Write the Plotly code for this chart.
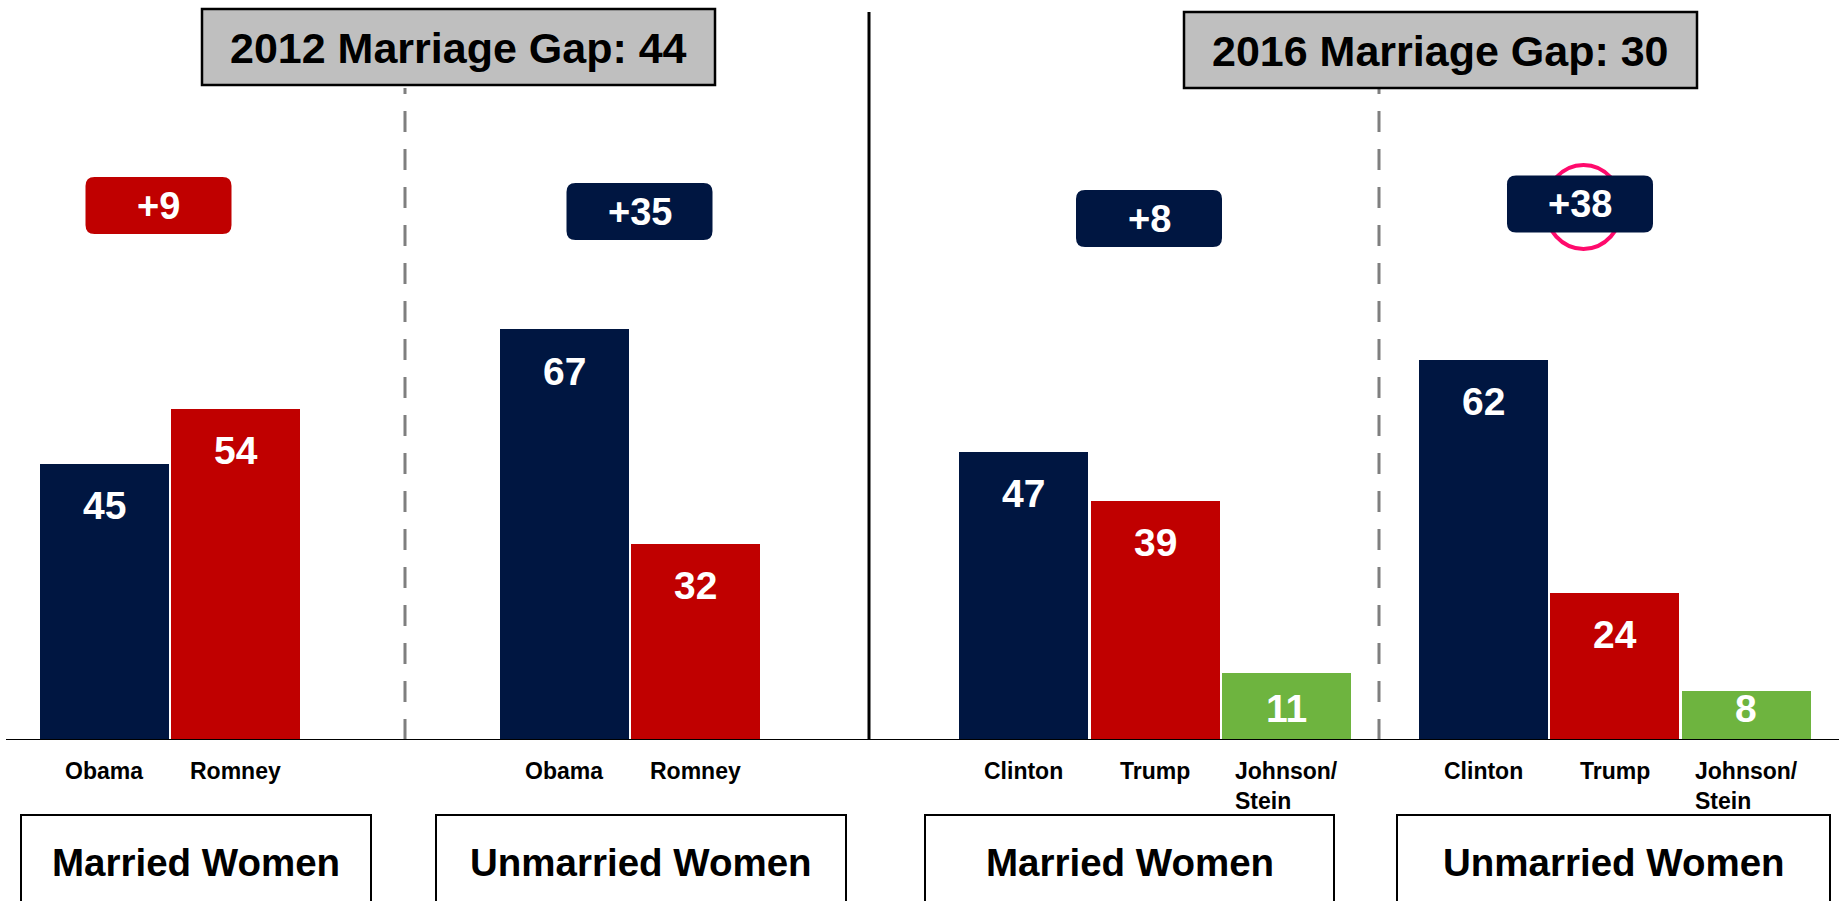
import plotly.graph_objects as go

# ---------------- data ----------------
groups = ["2012 Married", "2012 Unmarried", "2016 Married", "2016 Unmarried"]
group_titles = ["Married Women", "Unmarried Women", "Married Women", "Unmarried Women"]
candidates_2012 = ["Obama", "Romney"]
candidates_2016 = ["Clinton", "Trump", "Johnson/<br>Stein"]
married_2012 = [45, 54]
unmarried_2012 = [67, 32]
married_2016 = [47, 39, 11]
unmarried_2016 = [62, 24, 8]
years = ["2012", "2016"]

# ---------------- style ----------------
NAVY = "#001641"
RED = "#C00000"
GREEN = "#6EB43F"
GRAY_BOX = "#BFBFBF"
DASH_GRAY = "#7F7F7F"
PINK = "#FF0A6C"
FONT = "Liberation Sans, Arial, sans-serif"
cand_colors = [NAVY, RED, GREEN]

W, H = 1839, 901
BASE_PX = 740          # pixel row of the baseline
PX_PER_UNIT = 6.134    # vertical pixels per percentage point
SLOT_PX = 131.35       # horizontal pixels per bar slot
FIRST_PX = 104.4       # pixel column of first bar centre
BAR_W = 0.982
GROUP_STEP = 3.5

def xp(px):
    return px / W

def yp(py):
    return (BASE_PX - py) / BASE_PX

series = [
    (candidates_2012, married_2012),
    (candidates_2012, unmarried_2012),
    (candidates_2016, married_2016),
    (candidates_2016, unmarried_2016),
]

fig = go.Figure()
annotations = []
shapes = []

def ann(**kw):
    kw.setdefault("showarrow", False)
    kw.setdefault("xanchor", "center")
    kw.setdefault("yanchor", "middle")
    annotations.append(kw)

for g, (cands, vals) in enumerate(series):
    xs = [GROUP_STEP * g + i for i in range(len(vals))]
    fig.add_trace(go.Bar(
        x=xs, y=vals, width=BAR_W,
        marker=dict(color=cand_colors[:len(vals)], line=dict(width=0)),
        hoverinfo="skip", showlegend=False,
    ))
    for x, v, c in zip(xs, vals, cands):
        bar_px = v * PX_PER_UNIT
        off = min(42, max(18, bar_px - 32))
        ann(x=x, y=v, xref="x", yref="y", text=f"<b>{v}</b>", yshift=-off,
            font=dict(family=FONT, size=39, color="white"))
        ann(x=x, y=yp(756), xref="x", yref="paper", text=f"<b>{c}</b>",
            yanchor="top", align="left",
            font=dict(family=FONT, size=23, color="black"))

# ---------------- gap badges ----------------
def rrect_path(x0, y0, x1, y1, r):
    def P(a, b):
        return f"{xp(a):.6f},{yp(b):.6f}"
    return (f"M {P(x0 + r, y0)} L {P(x1 - r, y0)} Q {P(x1, y0)} {P(x1, y0 + r)} "
            f"L {P(x1, y1 - r)} Q {P(x1, y1)} {P(x1 - r, y1)} L {P(x0 + r, y1)} "
            f"Q {P(x0, y1)} {P(x0, y1 - r)} L {P(x0, y0 + r)} Q {P(x0, y0)} {P(x0 + r, y0)} Z")

badge_centers_px = [(158.5, 205.5), (639.5, 211.5), (1149, 218.5), (1580, 204)]
BADGE_W, BADGE_H = 146, 57

# highlight circle behind the +38 badge
shapes.append(dict(type="circle", xref="paper", yref="paper",
                   x0=xp(1545), x1=xp(1622), y0=yp(249), y1=yp(165),
                   line=dict(color=PINK, width=4), fillcolor="rgba(0,0,0,0)", layer="above"))

gaps = []
for g, (cands, vals) in enumerate(series):
    diff = vals[0] - vals[1]
    gaps.append(diff)
    color = NAVY if diff > 0 else RED
    cx, cy = badge_centers_px[g]
    shapes.append(dict(type="path", xref="paper", yref="paper",
                       path=rrect_path(cx - BADGE_W / 2, cy - BADGE_H / 2,
                                       cx + BADGE_W / 2, cy + BADGE_H / 2, 9),
                       fillcolor=color, line=dict(width=0), layer="above"))
    ann(x=xp(cx), y=yp(cy), xref="paper", yref="paper",
        text=f"<b>+{abs(diff)}</b>",
        font=dict(family=FONT, size=38, color="white"))

# ---------------- marriage gap titles ----------------
marriage_gap = [abs(gaps[1] - gaps[0]), abs(gaps[3] - gaps[2])]
title_boxes_px = [(202, 9, 715, 85), (1184, 12, 1697, 88)]
for (x0, y0, x1, y1), yr, mg in zip(title_boxes_px, years, marriage_gap):
    shapes.append(dict(type="rect", xref="paper", yref="paper",
                       x0=xp(x0), x1=xp(x1), y0=yp(y1), y1=yp(y0),
                       fillcolor=GRAY_BOX, line=dict(color="black", width=2.5), layer="above"))
    ann(x=xp((x0 + x1) / 2), y=yp((y0 + y1) / 2 + 1), xref="paper", yref="paper",
        text=f"<b>{yr} Marriage Gap: {mg}</b>",
        font=dict(family=FONT, size=43, color="black"))

# ---------------- separators ----------------
for px in [405, 1379]:
    shapes.append(dict(type="line", xref="paper", yref="paper",
                       x0=xp(px), x1=xp(px), y0=yp(740), y1=yp(88),
                       line=dict(color=DASH_GRAY, width=3, dash="21px,17px"), layer="below"))
shapes.append(dict(type="line", xref="paper", yref="paper",
                   x0=xp(869), x1=xp(869), y0=yp(739), y1=yp(12),
                   line=dict(color="black", width=3), layer="above"))
shapes.append(dict(type="line", xref="paper", yref="y",
                   x0=xp(6), x1=1, y0=0, y1=0,
                   line=dict(color="black", width=2), layer="above"))

# ---------------- bottom group boxes ----------------
group_boxes_px = [(21, 371), (436, 846), (925, 1334), (1397, 1830)]
for (x0, x1), t in zip(group_boxes_px, group_titles):
    shapes.append(dict(type="rect", xref="paper", yref="paper",
                       x0=xp(x0), x1=xp(x1), y0=yp(915), y1=yp(815),
                       fillcolor="white", line=dict(color="black", width=2), layer="above"))
    ann(x=xp((x0 + x1) / 2), y=yp(862), xref="paper", yref="paper",
        text=f"<b>{t}</b>",
        font=dict(family=FONT, size=38.5, color="black"))

x_lo = -FIRST_PX / SLOT_PX
x_hi = (W - FIRST_PX) / SLOT_PX
fig.update_layout(
    width=W, height=H,
    margin=dict(l=0, r=0, t=0, b=H - BASE_PX, pad=0),
    paper_bgcolor="white", plot_bgcolor="white",
    xaxis=dict(range=[x_lo, x_hi], visible=False, fixedrange=True),
    yaxis=dict(range=[0, BASE_PX / PX_PER_UNIT], visible=False, fixedrange=True),
    bargap=0, showlegend=False,
    shapes=shapes, annotations=annotations,
)

fig.write_html("out.html", config={"displayModeBar": False},
               post_script="document.body.style.margin='0';document.body.style.overflow='hidden';")
